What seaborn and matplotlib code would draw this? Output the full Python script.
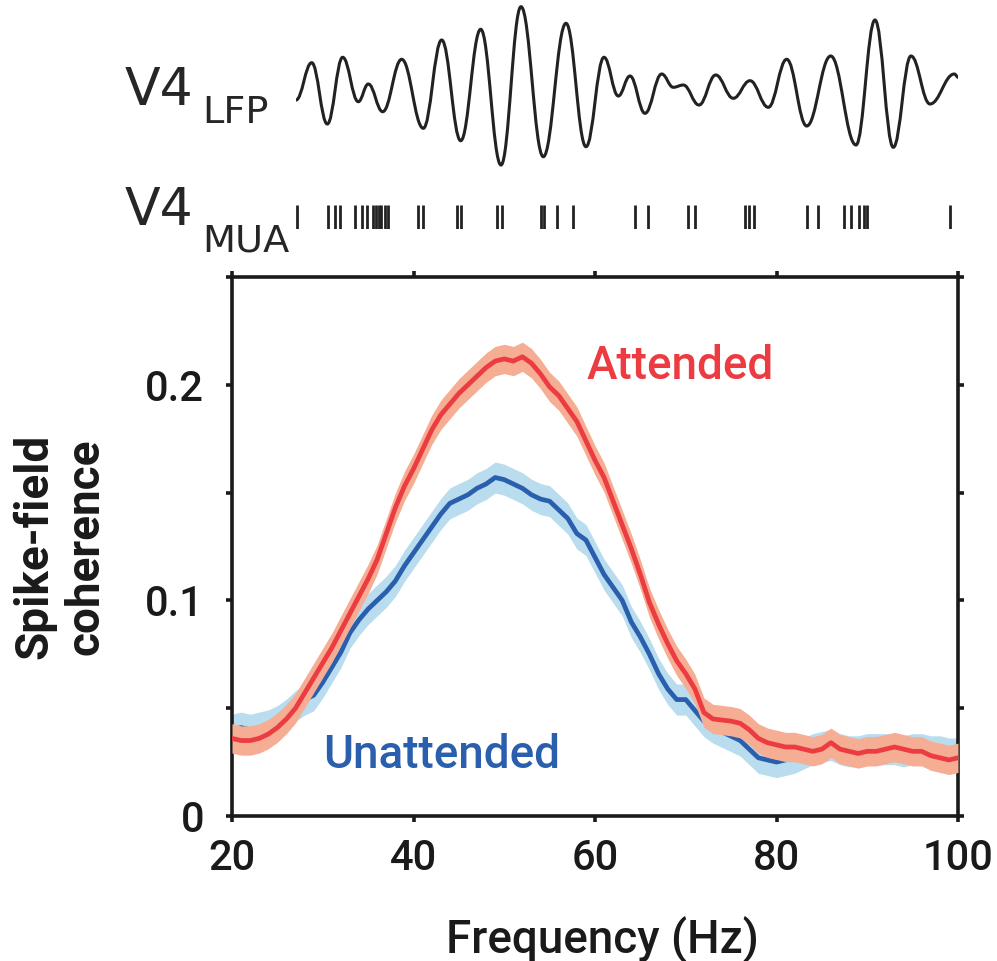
import numpy as np
import pandas as pd
import matplotlib
matplotlib.use("Agg")
import matplotlib.pyplot as plt
from matplotlib.path import Path
from matplotlib.patches import PathPatch
import seaborn as sns

# ---------------- data ----------------
freq = list(range(20, 101))
attended = [0.036, 0.035, 0.035, 0.036, 0.038, 0.041, 0.045, 0.050, 0.057, 0.064,
            0.071, 0.078, 0.086, 0.094, 0.102, 0.110, 0.119, 0.131, 0.143, 0.153,
            0.161, 0.170, 0.179, 0.186, 0.191, 0.196, 0.200, 0.204, 0.208, 0.211,
            0.212, 0.211, 0.213, 0.210, 0.205, 0.199, 0.195, 0.189, 0.183, 0.174,
            0.165, 0.157, 0.146, 0.135, 0.124, 0.112, 0.099, 0.089, 0.080, 0.072,
            0.066, 0.059, 0.048, 0.045, 0.0445, 0.044, 0.043, 0.040, 0.036, 0.034,
            0.033, 0.032, 0.032, 0.031, 0.030, 0.031, 0.034, 0.031, 0.030, 0.029,
            0.030, 0.030, 0.031, 0.032, 0.031, 0.030, 0.030, 0.028, 0.027, 0.026,
            0.027]
unattended = [0.040, 0.041, 0.040, 0.041, 0.042, 0.044, 0.047, 0.051, 0.054, 0.056,
              0.062, 0.069, 0.076, 0.085, 0.091, 0.096, 0.100, 0.104, 0.109, 0.116,
              0.122, 0.128, 0.134, 0.140, 0.145, 0.147, 0.149, 0.152, 0.154, 0.157,
              0.156, 0.154, 0.152, 0.149, 0.147, 0.146, 0.142, 0.138, 0.131, 0.128,
              0.120, 0.112, 0.106, 0.100, 0.090, 0.083, 0.075, 0.066, 0.059, 0.054,
              0.054, 0.049, 0.044, 0.041, 0.039, 0.037, 0.035, 0.031, 0.027, 0.026,
              0.025, 0.026, 0.027, 0.029, 0.031, 0.032, 0.033, 0.031, 0.030, 0.030,
              0.031, 0.031, 0.031, 0.031, 0.030, 0.031, 0.031, 0.030, 0.030, 0.029,
              0.029]
att_sem = 0.0068
unatt_sem = 0.0072

# LFP trace: successive extrema (time, amplitude)
lfp_t = [0, 15.7, 31.3, 46.7, 62.3, 72.3, 86.7, 105.7, 127.3, 145.7, 164.7, 184.7,
         205, 225, 247.3, 270, 290, 308, 322.3, 334, 349, 365.7, 377.3, 387.3, 403,
         419.7, 437.3, 454, 472.3, 490.7, 510.7, 534.7, 560, 579, 597.3, 615, 634,
         658.3, 662.3]
lfp_amp = [-14, 23.3, -38, 28.7, -15.7, 2, -25.7, 26.7, -42.3, 46, -54.7, 56.7,
           -79, 79.3, -70.7, 62.7, -60.7, 28.7, -10, 10, -27.3, 12, -1.3, 1, -19,
           11, -12.3, 5.3, -21.3, 26.7, -40, 30, -59, 66, -61.3, 30, -18, 12, 8.7]

# MUA spike times
mua_spikes = [1.3, 32.3, 39, 44, 59, 65.7, 71.3, 77.3, 80, 82.7, 85.3, 88.7, 92.3,
              122.3, 127.3, 161.3, 164.7, 200.7, 206.3, 244.7, 248, 260.7, 277.3,
              339, 352.3, 391.7, 399, 449, 453.3, 458, 510.7, 522.3, 548.3, 555,
              563.3, 568, 570.7, 654]

xticks = [20, 40, 60, 80, 100]
yticks = [0, 0.05, 0.1, 0.15, 0.2, 0.25]
ytick_labels = ["0", "", "0.1", "", "0.2", ""]

RED, RED_BAND = "#EC3B41", "#F5AD93"
BLUE, BLUE_BAND = "#2A5FAE", "#B9DCEF"

# ---------------- style ----------------
sns.set_style("ticks")
plt.rcParams["font.family"] = ["Roboto", "DejaVu Sans"]

W, H = 997, 961
fig = plt.figure(figsize=(W / 100, H / 100), dpi=100)

def fx(px):
    return px / W

def fy(py):
    return 1 - py / H

# ---------------- main axes ----------------
ax = fig.add_axes([fx(232), fy(816), (958 - 232) / W, (816 - 277) / H])

df_att = pd.DataFrame({"Frequency": freq, "Coherence": attended})
df_un = pd.DataFrame({"Frequency": freq, "Coherence": unattended})

ax.fill_between(df_un["Frequency"], df_un["Coherence"] - unatt_sem,
                df_un["Coherence"] + unatt_sem, color=BLUE_BAND, lw=0, zorder=1)
sns.lineplot(data=df_un, x="Frequency", y="Coherence", color=BLUE, lw=3.4,
             ax=ax, zorder=2, errorbar=None)
ax.fill_between(df_att["Frequency"], df_att["Coherence"] - att_sem,
                df_att["Coherence"] + att_sem, color=RED_BAND, lw=0, zorder=3)
sns.lineplot(data=df_att, x="Frequency", y="Coherence", color=RED, lw=3.4,
             ax=ax, zorder=4, errorbar=None)

ax.set_xlim(20, 100)
ax.set_ylim(0, 0.25)
ax.set_xticks(xticks)
ax.set_xticklabels([str(v) for v in xticks])
ax.set_yticks(yticks)
ax.set_yticklabels(ytick_labels)
for s in ax.spines.values():
    s.set_visible(True)
    s.set_linewidth(2.6)
    s.set_color("#1a1a1a")
ax.tick_params(axis="both", which="both", direction="out", length=4, width=2.6,
               color="#1a1a1a", top=True, right=True, labelsize=30,
               labelcolor="#1a1a1a")
ax.tick_params(axis="y", pad=16)
ax.tick_params(axis="x", pad=12)
for lab in ax.get_xticklabels() + ax.get_yticklabels():
    lab.set_fontweight("medium")

ax.set_xlabel("Frequency (Hz)", fontsize=33, fontweight="medium", color="#1a1a1a")
ax.xaxis.set_label_coords(0.51, -0.184)
ax.set_ylabel("Spike-field\ncoherence", fontsize=33, fontweight="bold",
              color="#1a1a1a", linespacing=1.2)
ax.yaxis.set_label_coords(-0.172, 0.5)

ax.text(59.1, 0.2028, "Attended", color=RED, fontsize=33, fontweight="medium",
        ha="left", va="baseline")
ax.text(30.0, 0.0222, "Unattended", color=BLUE, fontsize=33, fontweight="medium",
        ha="left", va="baseline")

# ---------------- LFP trace ----------------
ax_lfp = fig.add_axes([fx(296), fy(175), 662.3 / W, 175 / H])
ax_lfp.set_xlim(0, 662.3)
ax_lfp.set_ylim(-89, 86)
ax_lfp.axis("off")

def smooth_path(xs, ys, k=0.4):
    verts = [(xs[0], ys[0])]
    codes = [Path.MOVETO]
    for i in range(1, len(xs)):
        d = (xs[i] - xs[i - 1]) * k
        verts += [(xs[i - 1] + d, ys[i - 1]), (xs[i] - d, ys[i]), (xs[i], ys[i])]
        codes += [Path.CURVE4] * 3
    return Path(verts, codes)

ax_lfp.add_patch(PathPatch(smooth_path(lfp_t, lfp_amp), fill=False,
                           lw=2.2, edgecolor="#222222", capstyle="round"))

# ---------------- MUA raster ----------------
ax_mua = fig.add_axes([fx(296), fy(229), 662.3 / W, 24 / H])
ax_mua.set_xlim(0, 662.3)
ax_mua.set_ylim(0, 1)
ax_mua.axis("off")
ax_mua.vlines(mua_spikes, 0, 1, color="#222222", lw=2.0)

# ---------------- row labels ----------------
lbl_font = ["DejaVu Sans"]
fig.text(fx(125), fy(105), "V4", fontsize=37.5, family=lbl_font, va="baseline", ha="left")
fig.text(fx(202), fy(123), "LFP", fontsize=27.5, family=lbl_font, va="baseline", ha="left")
fig.text(fx(125), fy(225), "V4", fontsize=37.5, family=lbl_font, va="baseline", ha="left")
fig.text(fx(202), fy(252), "MUA", fontsize=27.5, family=lbl_font, va="baseline", ha="left")

fig.savefig("out.png", dpi=100, facecolor="white")
